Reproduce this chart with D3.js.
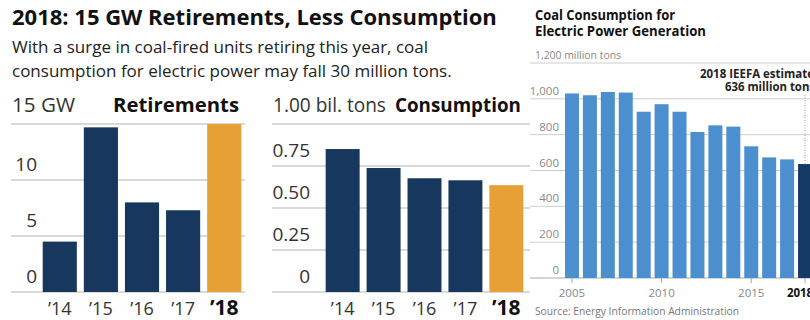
<!DOCTYPE html>
<html>
<head>
<meta charset="utf-8">
<style>
body { margin: 0; background: #fff; }
svg { display: block; font-family: "Open Sans", "Noto Sans", sans-serif; }
</style>
</head>
<body>
<svg width="810" height="320"></svg>
<script src="https://cdn.jsdelivr.net/npm/d3@7"></script>
<script>
// data
var years = ["’14", "’15", "’16", "’17", "’18"];
var retirements = [4.5, 14.7, 8.0, 7.3, 15.0];
var consumption = [0.851, 0.738, 0.677, 0.665, 0.636];
var retTicks = [0, 5, 10, 15];
var conTicks = [0, 0.25, 0.5, 0.75, 1.0];
var longYears = [2005, 2006, 2007, 2008, 2009, 2010, 2011, 2012, 2013, 2014, 2015, 2016, 2017, 2018];
var longValues = [1030, 1020, 1038, 1035, 928, 970, 928, 815, 852, 845, 735, 673, 662, 636];
var longTicks = [0, 200, 400, 600, 800, 1000, 1200];
var longLabels = [2005, 2010, 2015, 2018];

var navy = "#17375f", orange = "#e7a036", blue = "#4b8fcf", grid = "#cdcdcd";

var svg = d3.select("svg");

// shrink/grow the font so the text spans the width we want
function fit(t, w) {
  var s = parseFloat(t.attr("font-size"));
  var len = t.node().getComputedTextLength();
  t.attr("font-size", (s * w / len).toFixed(2));
  return t;
}
// keep the font size, squeeze the glyphs (source font is narrower than Open Sans)
function squeeze(t, w) {
  if (t.node().getComputedTextLength() > w)
    t.attr("textLength", w).attr("lengthAdjust", "spacingAndGlyphs");
  return t;
}

// headline
fit(svg.append("text").attr("x", 12).attr("y", 25).attr("font-size", 20)
  .attr("font-weight", "bold").attr("fill", "#111")
  .text("2018: 15 GW Retirements, Less Consumption"), 485);
squeeze(svg.append("text").attr("x", 12).attr("y", 53).attr("font-size", 17)
  .attr("fill", "#222")
  .text("With a surge in coal-fired units retiring this year, coal"), 451);
squeeze(svg.append("text").attr("x", 12).attr("y", 77).attr("font-size", 17)
  .attr("fill", "#222")
  .text("consumption for electric power may fall 30 million tons."), 481);

// ---- small bar panel ----
function panel(opts) {
  var x = d3.scaleBand().domain(years).range(opts.xr).paddingInner(0.17).paddingOuter(0.09);
  var y = d3.scaleLinear().domain(opts.dom).range([292, 124]);
  var g = svg.append("g");

  g.selectAll(".grid").data(opts.ticks).enter().append("line")
    .attr("x1", opts.gx[0]).attr("x2", opts.gx[1])
    .attr("y1", function(d) { return y(d); }).attr("y2", function(d) { return y(d); })
    .attr("stroke", grid).attr("stroke-width", 1.5);

  g.selectAll(".tl").data(opts.ticks.slice(0, -1)).enter().append("text")
    .attr("x", opts.tickX).attr("y", function(d) { return y(d) - 9; })
    .attr("text-anchor", "end").attr("font-size", 19).attr("fill", "#333")
    .text(opts.fmt);

  g.selectAll("rect").data(opts.values).enter().append("rect")
    .attr("x", function(d, i) { return x(years[i]); })
    .attr("y", function(d) { return y(d); })
    .attr("width", x.bandwidth())
    .attr("height", function(d) { return y(0) - y(d); })
    .attr("fill", function(d, i) { return i == 4 ? orange : navy; });

  g.selectAll(".xl").data(years).enter().append("text")
    .attr("x", function(d) { return x(d) + x.bandwidth() / 2; })
    .attr("y", 315).attr("text-anchor", "middle")
    .attr("font-size", function(d, i) { return i == 4 ? 21 : 18; })
    .attr("font-weight", function(d, i) { return i == 4 ? "bold" : "normal"; })
    .attr("fill", function(d, i) { return i == 4 ? "#111" : "#333"; })
    .text(function(d) { return d; });

  fit(g.append("text").attr("x", opts.gx[0] + 1).attr("y", 112).attr("font-size", 19)
    .attr("fill", "#333").text(opts.unit), opts.unitW);
  var t = g.append("text").attr("y", 112).attr("font-size", 19)
    .attr("font-weight", "bold").attr("fill", "#111").text(opts.title);
  fit(t, 126);
  if (opts.titleEnd) t.attr("x", opts.titleEnd).attr("text-anchor", "end");
  else t.attr("x", opts.titleX);
}

panel({ values: retirements, dom: [0, 15], ticks: retTicks, xr: [39, 245], gx: [11, 245],
  tickX: 37, fmt: function(d) { return d; }, unit: "15 GW", unitW: 63,
  title: "Retirements", titleEnd: 239 });
panel({ values: consumption, dom: [0, 1], ticks: conTicks, xr: [322, 527], gx: [272, 531],
  tickX: 310, fmt: function(d) { return d == 0 ? "0" : d3.format(".2f")(d); }, unit: "1.00 bil. tons", unitW: 113,
  title: "Consumption", titleX: 395 });

// ---- coal consumption panel (drawn on top) ----
var r = svg.append("g");
r.append("rect").attr("x", 530).attr("y", 0).attr("width", 280).attr("height", 320).attr("fill", "#fff");

var x = d3.scaleBand().domain(longYears).range([563, 814]).paddingInner(0.22).paddingOuter(0.11);
var y = d3.scaleLinear().domain([0, 1200]).range([278, 63]);

squeeze(r.append("text").attr("x", 535).attr("y", 20).attr("font-size", 14)
  .attr("font-weight", "bold").attr("fill", "#111").text("Coal Consumption for"), 140);
squeeze(r.append("text").attr("x", 535).attr("y", 36).attr("font-size", 14)
  .attr("font-weight", "bold").attr("fill", "#111").text("Electric Power Generation"), 171);

r.selectAll(".grid").data(longTicks).enter().append("line")
  .attr("x1", 530).attr("x2", 810)
  .attr("y1", function(d) { return y(d); }).attr("y2", function(d) { return y(d); })
  .attr("stroke", function(d) { return d == 0 ? "#aaa" : grid; }).attr("stroke-width", 1);

r.selectAll(".tl").data(longTicks.slice(0, -1)).enter().append("text")
  .attr("x", 559).attr("y", function(d) { return y(d) - 4; })
  .attr("text-anchor", "end").attr("font-size", 11.5).attr("fill", "#888")
  .text(d3.format(","));
squeeze(r.append("text").attr("x", 535).attr("y", 59).attr("font-size", 11.5)
  .attr("fill", "#888").text("1,200 million tons"), 86);

r.selectAll(".bar").data(longValues).enter().append("rect")
  .attr("x", function(d, i) { return x(longYears[i]); })
  .attr("y", function(d) { return y(d); })
  .attr("width", x.bandwidth())
  .attr("height", function(d) { return y(0) - y(d); })
  .attr("fill", function(d, i) { return i == longYears.length - 1 ? "#163a66" : blue; });

var cx = function(d) { return x(d) + x.bandwidth() / 2; };

// estimate marker
r.append("line").attr("x1", cx(2018)).attr("x2", cx(2018))
  .attr("y1", 95).attr("y2", y(636))
  .attr("stroke", "#999").attr("stroke-width", 1).attr("stroke-dasharray", "1,1.5");
squeeze(r.append("text").attr("x", 814).attr("y", 78).attr("text-anchor", "end")
  .attr("font-size", 12).attr("font-weight", "bold").attr("fill", "#222")
  .text("2018 IEEFA estimate"), 114);
squeeze(r.append("text").attr("x", 815).attr("y", 91).attr("text-anchor", "end")
  .attr("font-size", 12).attr("font-weight", "bold").attr("fill", "#222")
  .text("636 million tons"), 90);

r.selectAll(".tk").data(longLabels).enter().append("line")
  .attr("x1", cx).attr("x2", cx).attr("y1", 278).attr("y2", 283)
  .attr("stroke", "#aaa");
r.selectAll(".xl").data(longLabels).enter().append("text")
  .attr("x", function(d) { return d == 2018 ? cx(d) - 5 : cx(d); })
  .attr("y", 297).attr("text-anchor", "middle")
  .attr("font-size", 11.5)
  .attr("font-weight", function(d) { return d == 2018 ? "bold" : "normal"; })
  .attr("fill", function(d) { return d == 2018 ? "#111" : "#888"; })
  .text(function(d) { return d; });

squeeze(r.append("text").attr("x", 535).attr("y", 315).attr("font-size", 11.5)
  .attr("fill", "#777").text("Source:  Energy Information Administration"), 204);
</script>
</body>
</html>
